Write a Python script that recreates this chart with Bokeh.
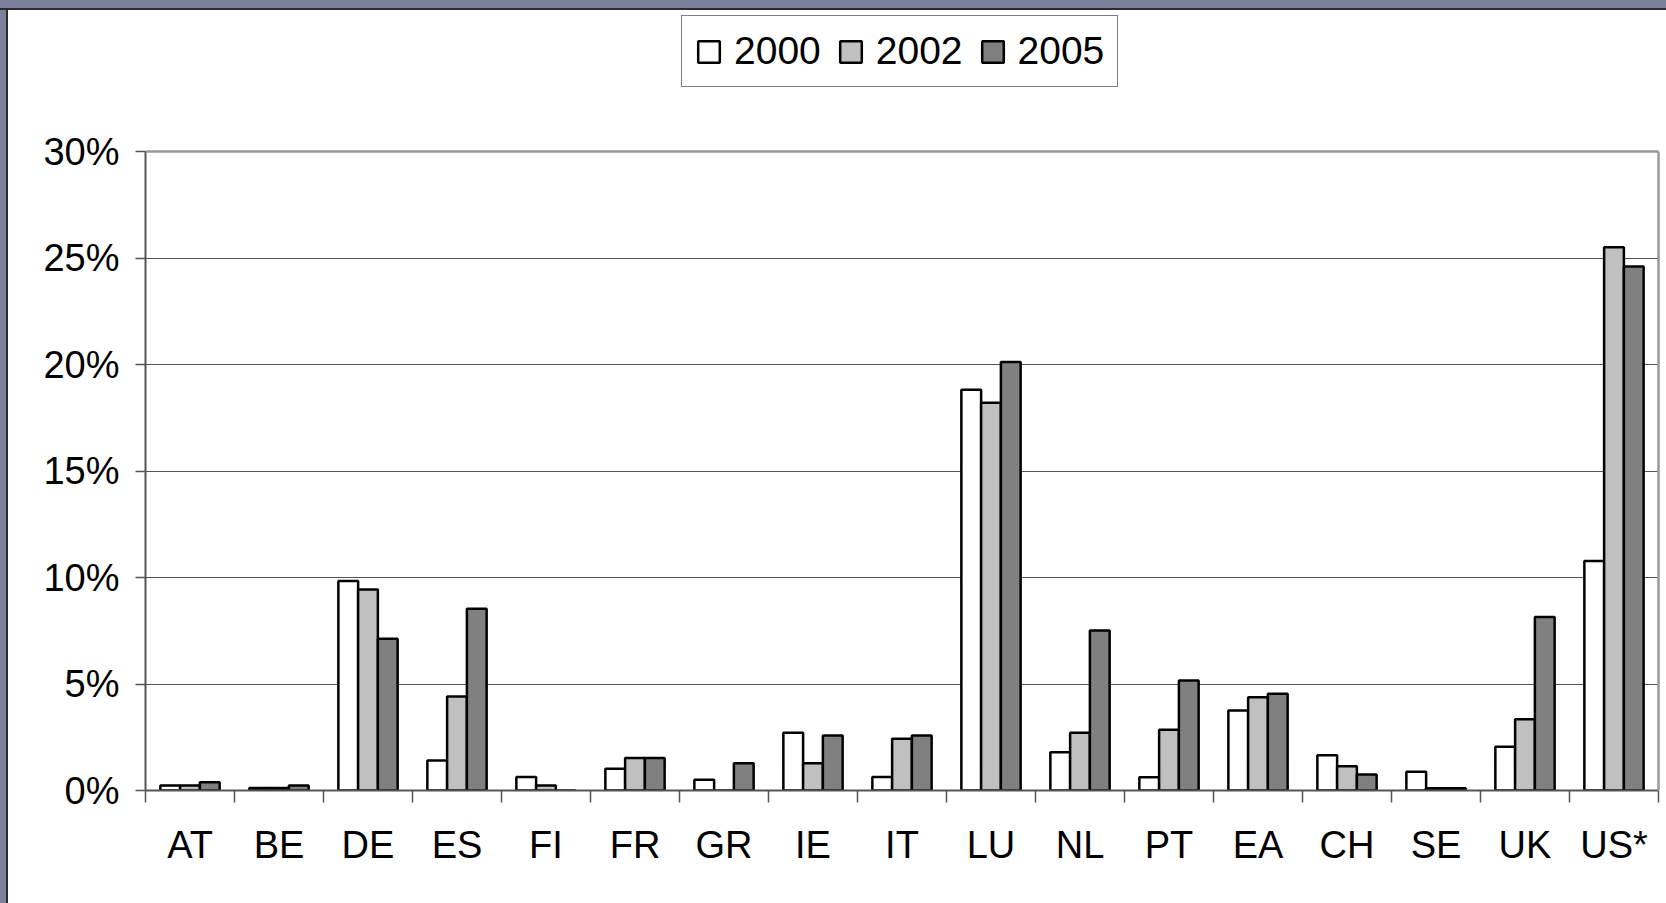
from bokeh.plotting import figure
from bokeh.models import (ColumnDataSource, FixedTicker, PrintfTickFormatter, Legend,
                          LegendItem, Range1d, Spacer, Span, LinearAxis)
from bokeh.layouts import column, row
from bokeh.embed import file_html
from bokeh.resources import INLINE

countries = ["AT", "BE", "DE", "ES", "FI", "FR", "GR", "IE", "IT", "LU",
             "NL", "PT", "EA", "CH", "SE", "UK", "US*"]
years = ["2000", "2002", "2005"]
v2000 = [0.23, 0.12, 9.83, 1.41, 0.63, 1.02, 0.50, 2.71, 0.63, 18.82,
         1.80, 0.62, 3.76, 1.66, 0.88, 2.05, 10.77]
v2002 = [0.23, 0.12, 9.44, 4.41, 0.23, 1.53, 0.00, 1.28, 2.43, 18.21,
         2.71, 2.85, 4.38, 1.14, 0.10, 3.35, 25.50]
v2005 = [0.39, 0.23, 7.13, 8.53, 0.00, 1.53, 1.28, 2.58, 2.58, 20.12,
         7.51, 5.16, 4.54, 0.75, 0.10, 8.15, 24.60]
y_ticks = [0, 5, 10, 15, 20, 25, 30]
y_max = 30

series = [v2000, v2002, v2005]
colors = ["#ffffff", "#c0c0c0", "#808080"]
bar_w = 0.222
offsets = [-bar_w, 0.0, bar_w]

FONT = "Liberation Sans"
SLATE = "#7d8099"

FRAME_H = 780
PLOT_H = 639
y_end = y_max * FRAME_H / PLOT_H

p = figure(width=1658, height=893, output_backend="svg", toolbar_location=None,
           x_range=Range1d(0, len(countries)), y_range=Range1d(0, y_end),
           min_border_left=137, min_border_right=8, min_border_top=0,
           min_border_bottom=893 - FRAME_H, background_fill_color="white",
           border_fill_color="white")
p.outline_line_color = None

renderers = []
centers = [i + 0.5 for i in range(len(countries))]
for vals, col, off in zip(series, colors, offsets):
    src = ColumnDataSource(dict(x=[c + off for c in centers], top=vals))
    r = p.vbar(x="x", top="top", bottom=0, width=bar_w, source=src,
               fill_color=col, line_color="black", line_width=2.5)
    renderers.append(r)

xt = FixedTicker(ticks=centers, minor_ticks=list(range(len(countries) + 1)))
p.xaxis.ticker = xt
p.xaxis.major_label_overrides = {c: n for c, n in zip(centers, countries)}
p.xaxis.major_tick_line_color = None
p.xaxis.minor_tick_line_color = "#555555"
p.xaxis.minor_tick_line_width = 1.5
p.xaxis.minor_tick_out = 12
p.xaxis.minor_tick_in = 0
p.xaxis.axis_line_color = "#555555"
p.xaxis.axis_line_width = 2
p.xaxis.major_label_text_font = FONT
p.xaxis.major_label_text_font_size = "38px"
p.xaxis.major_label_text_color = "black"
p.xaxis.major_label_standoff = 21

p.yaxis.ticker = FixedTicker(ticks=y_ticks, minor_ticks=[])
p.yaxis.bounds = (0, y_max)
p.yaxis.formatter = PrintfTickFormatter(format="%d%%")
p.yaxis.major_tick_out = 10
p.yaxis.major_tick_in = 0
p.yaxis.major_tick_line_color = "#555555"
p.yaxis.major_tick_line_width = 1.5
p.yaxis.axis_line_color = "#555555"
p.yaxis.axis_line_width = 2
p.yaxis.major_label_text_font = FONT
p.yaxis.major_label_text_font_size = "38px"
p.yaxis.major_label_text_color = "black"
p.yaxis.major_label_standoff = 16

right_ax = LinearAxis(ticker=FixedTicker(ticks=[]), bounds=(0, y_max),
                      axis_line_color="#999999", axis_line_width=2.5,
                      major_label_text_font_size="0px", major_tick_line_color=None,
                      minor_tick_line_color=None)
p.add_layout(right_ax, "right")

p.xgrid.grid_line_color = None
p.ygrid.grid_line_color = "#555555"
p.ygrid.grid_line_width = 1.2
p.add_layout(Span(location=y_max, dimension="width", line_color="#999999", line_width=2.5))

legend = Legend(items=[LegendItem(label=y, renderers=[r]) for y, r in zip(years, renderers)],
                orientation="horizontal", location=(536, 703),
                label_text_font=FONT, label_text_font_size="39px",
                label_text_color="black", glyph_width=27, glyph_height=27,
                label_standoff=12, spacing=16, padding=13, margin=0,
                border_line_color="black", border_line_width=1,
                background_fill_color="white", background_fill_alpha=1.0)
p.add_layout(legend, "center")

top_bar = Spacer(height=10, width=1666, styles={
    "background": f"linear-gradient(to bottom, {SLATE} 0px, {SLATE} 8px, #2b2c33 8px, #2b2c33 10px)"})
left_bar = Spacer(width=8, height=893, styles={
    "background": f"linear-gradient(to right, {SLATE} 0px, {SLATE} 6px, #2b2c33 6px, #2b2c33 8px)"})

layout = column(top_bar, row(left_bar, p), styles={"background-color": "white"})

open("out.html", "w").write(file_html(layout, INLINE))
